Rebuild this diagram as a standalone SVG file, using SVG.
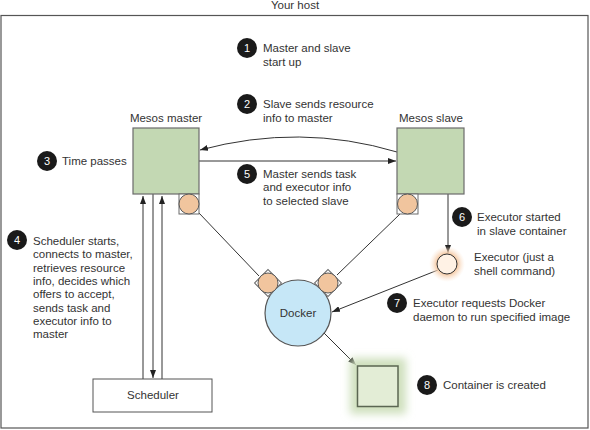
<svg xmlns="http://www.w3.org/2000/svg" width="590" height="430" viewBox="0 0 590 430">
<style>
text{font-family:"Liberation Sans",Arial,sans-serif;font-size:11.5px;fill:#333}
.lbl{font-size:11.5px}
.num{fill:#fff;font-size:11px;text-anchor:middle}
.badge{fill:#1a1a1a}
.conn{stroke:#333;stroke-width:1;fill:none}
.box{fill:#c3d8b3;stroke:#6b6b6b;stroke-width:1.2}
.port{fill:#f1c59e;stroke:#5a5a5a;stroke-width:1}
.portsq{fill:#fff;stroke:#6b6b6b;stroke-width:1}
</style>
<defs>
<marker id="ah" viewBox="0 0 8 6" refX="8" refY="3" markerWidth="8" markerHeight="6" markerUnits="userSpaceOnUse" orient="auto">
<path d="M0,0 L8,3 L0,6 z" fill="#222"/>
</marker>
<filter id="blurG" x="-50%" y="-50%" width="200%" height="200%"><feGaussianBlur stdDeviation="4"/></filter>
<radialGradient id="exGlow">
<stop offset="0.55" stop-color="#f4c7a0" stop-opacity="1"/>
<stop offset="1" stop-color="#fbe6d4" stop-opacity="0"/>
</radialGradient>
</defs>
<rect x="1" y="15.5" width="587" height="412.5" fill="#fff" stroke="#555" stroke-width="1.2"/>
<text x="295" y="9" text-anchor="middle">Your host</text>

<g id="connectors">
<path class="conn" d="M397,152 Q300,123 200,150" marker-end="url(#ah)"/>
<path class="conn" d="M199,161 L396,161" marker-end="url(#ah)"/>
<path class="conn" d="M143,379 L143,196" marker-end="url(#ah)"/>
<path class="conn" d="M153,194 L153,378" marker-end="url(#ah)"/>
<path class="conn" d="M162,379 L162,196" marker-end="url(#ah)"/>
<path class="conn" d="M199,213 L259,276"/>
<path class="conn" d="M400,214 L337,275"/>
<path class="conn" d="M448,194 L448,253" marker-end="url(#ah)"/>
<path class="conn" d="M438,270 L332,312" marker-end="url(#ah)"/>
<path class="conn" d="M324,333 L356,365" marker-end="url(#ah)"/>
</g>

<g id="master">
<text x="166" y="122" text-anchor="middle">Mesos master</text>
<rect class="box" x="133" y="128" width="66" height="66"/>
<rect class="portsq" x="179" y="194" width="20" height="20"/>
<circle class="port" cx="189" cy="204" r="10"/>
</g>

<g id="slave">
<text x="431" y="122" text-anchor="middle">Mesos slave</text>
<rect class="box" x="397" y="128" width="67" height="66"/>
<rect class="portsq" x="397" y="194" width="21" height="20"/>
<circle class="port" cx="407.5" cy="204" r="10"/>
</g>

<g id="docker">
<circle cx="298" cy="313" r="33" fill="#c6e7f7" stroke="#555" stroke-width="1.2"/>
<text x="298" y="317" text-anchor="middle">Docker</text>
<rect class="portsq" x="258.5" y="273.5" width="19" height="19" transform="rotate(45 268 283)"/>
<circle class="port" cx="268" cy="283" r="10"/>
<rect class="portsq" x="318.5" y="273.5" width="19" height="19" transform="rotate(45 328 283)"/>
<circle class="port" cx="328" cy="283" r="10"/>
</g>

<g id="executor">
<circle cx="447" cy="264" r="18" fill="url(#exGlow)"/>
<circle cx="447" cy="264" r="10" fill="#fff2e5" stroke="#333" stroke-width="1"/>
<text x="474" y="261">Executor (just a</text>
<text x="474" y="274.5">shell command)</text>
</g>

<g id="container">
<rect x="350" y="358" width="56" height="56" fill="#cfe0bd" filter="url(#blurG)"/>
<rect x="357.5" y="366" width="40.5" height="40.5" fill="#e3edd6" stroke="#5b6652" stroke-width="1.5"/>
</g>

<g id="scheduler">
<rect x="93" y="379" width="119" height="33" fill="#fff" stroke="#555" stroke-width="1"/>
<text x="153" y="399" text-anchor="middle">Scheduler</text>
</g>

<g id="step1">
<circle class="badge" cx="247" cy="48" r="10"/>
<text class="num" x="247" y="52">1</text>
<text x="263" y="52">Master and slave</text>
<text x="263" y="65.5">start up</text>
</g>
<g id="step2">
<circle class="badge" cx="247" cy="104" r="10"/>
<text class="num" x="247" y="108">2</text>
<text x="263" y="108">Slave sends resource</text>
<text x="263" y="121.5">info to master</text>
</g>
<g id="step3">
<circle class="badge" cx="47" cy="161" r="10"/>
<text class="num" x="47" y="165">3</text>
<text x="62" y="165">Time passes</text>
</g>
<g id="step5">
<circle class="badge" cx="247" cy="174" r="10"/>
<text class="num" x="247" y="178">5</text>
<text x="263" y="178">Master sends task</text>
<text x="263" y="191.3">and executor info</text>
<text x="263" y="204.6">to selected slave</text>
</g>
<g id="step4">
<circle class="badge" cx="17" cy="240" r="10"/>
<text class="num" x="17" y="244">4</text>
<text x="33" y="245">Scheduler starts,</text>
<text x="33" y="258.3">connects to master,</text>
<text x="33" y="271.6">retrieves resource</text>
<text x="33" y="284.9">info, decides which</text>
<text x="33" y="298.2">offers to accept,</text>
<text x="33" y="311.5">sends task and</text>
<text x="33" y="324.8">executor info to</text>
<text x="33" y="338.1">master</text>
</g>
<g id="step6">
<circle class="badge" cx="462" cy="217" r="10"/>
<text class="num" x="462" y="221">6</text>
<text x="477" y="221">Executor started</text>
<text x="477" y="234.5">in slave container</text>
</g>
<g id="step7">
<circle class="badge" cx="397" cy="303" r="10"/>
<text class="num" x="397" y="307">7</text>
<text x="413" y="307">Executor requests Docker</text>
<text x="413" y="320.5">daemon to run specified image</text>
</g>
<g id="step8">
<circle class="badge" cx="427" cy="385" r="10"/>
<text class="num" x="427" y="389">8</text>
<text x="443" y="389">Container is created</text>
</g>
</svg>
